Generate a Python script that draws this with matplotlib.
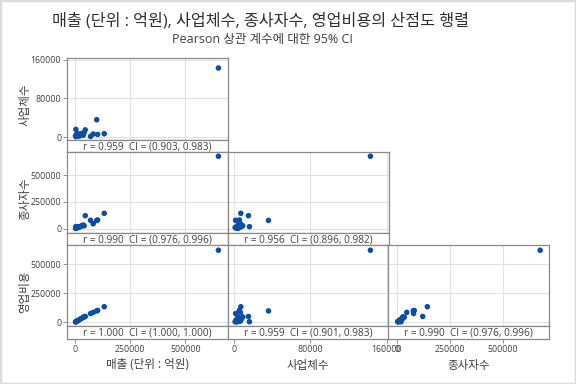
import matplotlib
matplotlib.use("Agg")
import matplotlib.pyplot as plt
from matplotlib.patches import Rectangle

plt.rcParams['font.family'] = ['Open Sans', 'Noto Sans CJK KR', 'DejaVu Sans']

title = "매출 (단위 : 억원), 사업체수, 종사자수, 영업비용의 산점도 행렬"
subtitle = "Pearson 상관 계수에 대한 95% CI"
names = ["매출 (단위 : 억원)", "사업체수", "종사자수", "영업비용"]

# values
sales = [3000, 4500, 5000, 6000, 8000, 11000, 15000, 19000, 26000, 30000,
         38000, 42000, 47000, 71000, 83000, 99000, 103000, 133000, 650000]
biz = [2500, 16000, 1000, 4000, 6000, 3000, 7000, 2000, 5000, 7500,
       4000, 9000, 15000, 1500, 6500, 36000, 5500, 7000, 143000]
emp = [6000, 20000, 12000, 4000, 15000, 10000, 19000, 14000, 22000, 28000,
       35000, 28000, 122000, 79000, 47000, 78000, 82000, 144000, 675000]
cost = [2000, 3500, 4000, 5000, 7000, 11000, 15000, 19000, 29000, 31000,
        43000, 45000, 49000, 74000, 84000, 97000, 101000, 133000, 622000]

# (row var, col var, r, CI low, CI high)
pair_stats = [
    (1, 0, "0.959", "0.903", "0.983"),
    (2, 0, "0.990", "0.976", "0.996"),
    (2, 1, "0.956", "0.896", "0.982"),
    (3, 0, "1.000", "1.000", "1.000"),
    (3, 1, "0.959", "0.901", "0.983"),
    (3, 2, "0.990", "0.976", "0.996"),
]

ticks = [[0, 250000, 500000], [0, 80000, 160000],
         [0, 250000, 500000], [0, 250000, 500000]]

data = [sales, biz, emp, cost]
xlims = [(-37000, 692000), (-7000, 162000), (-40000, 718000), None]
ylims = [None, (-5500, 163000), (-40000, 718000), (-37000, 668000)]

W, H = 576, 384
fig = plt.figure(figsize=(5.76, 3.84), dpi=100)

col_left = [66.7, 227.5, 388.3]
col_w = 161
row_top = [58.3, 151.6, 244.9]
plot_h = 81.5
strip_h = 12.3

box_col = '#8a8a8a'
txt_col = '#404040'
dot_col = '#0b4ea2'

for (i, j, r, lo, hi) in pair_stats:
    x0 = col_left[j]
    top = row_top[i - 1]
    ax = fig.add_axes([x0 / W, 1 - (top + plot_h) / H, col_w / W, plot_h / H])
    sax = fig.add_axes([x0 / W, 1 - (top + plot_h + strip_h) / H, col_w / W, strip_h / H])

    ax.scatter(data[j], data[i], s=16, color=dot_col, edgecolors='none', zorder=3)
    ax.set_xlim(*xlims[j])
    ax.set_ylim(*ylims[i])
    ax.set_xticks(ticks[j])
    ax.set_yticks(ticks[i])
    ax.grid(True, color='#e2e2e2', lw=0.8)
    ax.set_axisbelow(True)
    ax.tick_params(bottom=False, labelbottom=False)
    if j == 0:
        ax.set_yticklabels([str(t) for t in ticks[i]])
        ax.tick_params(axis='y', length=3, width=0.6, color='#808080',
                       labelsize=6.3, labelcolor=txt_col, pad=1)
    else:
        ax.tick_params(left=False, labelleft=False)
    for sp in ax.spines.values():
        sp.set_color(box_col)
        sp.set_linewidth(0.9)

    sax.set_xlim(*xlims[j])
    sax.set_ylim(0, 1)
    sax.set_yticks([])
    for sp in sax.spines.values():
        sp.set_color(box_col)
        sp.set_linewidth(0.9)
    sax.text(0.5, 0.45, f"r = {r}  CI = ({lo}, {hi})", transform=sax.transAxes,
             ha='center', va='center', fontsize=7.2, color=txt_col)
    if i == 3:
        sax.set_xticks(ticks[j])
        sax.set_xticklabels([str(t) for t in ticks[j]])
        sax.tick_params(axis='x', length=3, width=0.6, color='#808080',
                        labelsize=6.3, labelcolor=txt_col, pad=1.5)
    else:
        sax.set_xticks([])

# axis names
for k in range(1, 4):
    yc = row_top[k - 1] + (plot_h + strip_h) / 2
    fig.text(25 / W, 1 - yc / H, names[k], rotation=90, ha='center', va='center',
             fontsize=8.3, color=txt_col)
for k in range(3):
    xc = col_left[k] + col_w / 2
    fig.text(xc / W, 1 - 365 / H, names[k], ha='center', va='center',
             fontsize=8.3, color=txt_col)

fig.text(261 / W, 1 - 21 / H, title, ha='center', va='center', fontsize=11.6, color='#303030')
fig.text(262 / W, 1 - 40 / H, subtitle, ha='center', va='center', fontsize=9.0, color=txt_col)

fig.patches.append(Rectangle((0, 0), 1, 1, transform=fig.transFigure, fill=False,
                             edgecolor='#dcdcdc', lw=2.5))

fig.savefig('out.png', dpi=100)
